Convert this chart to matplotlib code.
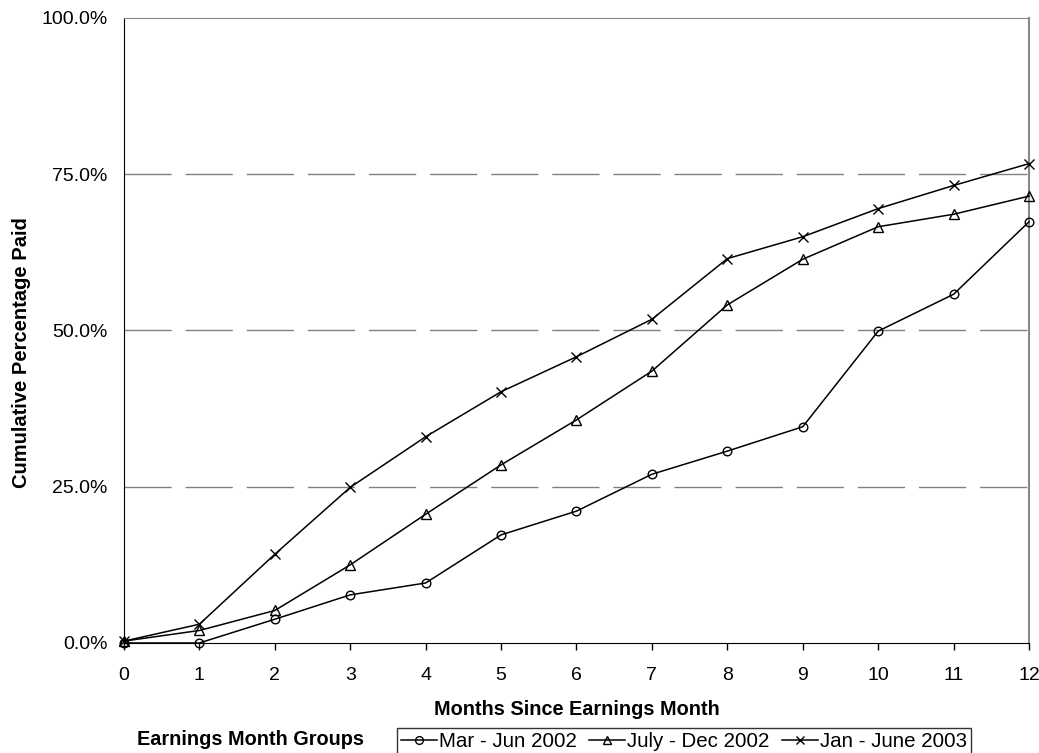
import matplotlib
matplotlib.use('Agg')
import matplotlib.pyplot as plt
from matplotlib.ticker import FuncFormatter

plt.rcParams['font.family'] = ['Liberation Sans', 'DejaVu Sans']

months = list(range(13))
mar_jun_2002 = [0.0, 0.0, 3.8, 7.7, 9.6, 17.3, 21.1, 27.0, 30.7, 34.6, 49.9, 55.8, 67.4]
jul_dec_2002 = [0.3, 2.0, 5.2, 12.5, 20.6, 28.5, 35.7, 43.5, 54.1, 61.4, 66.6, 68.6, 71.5]
jan_jun_2003 = [0.3, 3.0, 14.2, 24.9, 33.0, 40.2, 45.8, 51.8, 61.5, 65.0, 69.5, 73.2, 76.7]
series_names = ['Mar - Jun 2002', 'July - Dec 2002', 'Jan - June 2003']

fig = plt.figure(figsize=(10.39, 7.53), dpi=100)
ax = fig.add_axes([0.1193, 0.1461, 0.8711, 0.8300])

for y in [25, 50, 75]:
    ax.axhline(y, color='#808080', lw=1.0, dashes=(34, 10), zorder=1)

style = dict(color='black', lw=1.1, markerfacecolor='none', markeredgecolor='black',
             markeredgewidth=1.0, zorder=3, clip_on=False)
ax.plot(months, mar_jun_2002, marker='o', ms=6.2, label=series_names[0], **style)
ax.plot(months, jul_dec_2002, marker='^', ms=6.5, label=series_names[1], **style)
ax.plot(months, jan_jun_2003, marker='x', ms=7, label=series_names[2], **style)

ax.set_xlim(0, 12)
ax.set_ylim(0, 100)
ax.set_xticks(months)
ax.set_yticks([0, 25, 50, 75, 100])
ax.yaxis.set_major_formatter(FuncFormatter(lambda v, p: '%.1f%%' % v))
ax.tick_params(axis='x', direction='out', length=5, width=1, labelsize=14, pad=12.3)
ax.tick_params(axis='y', length=0, labelsize=14, pad=12)

ax.spines['top'].set_color('#888888')
ax.spines['right'].set_color('#888888')
ax.spines['right'].set_linewidth(1.5)
ax.spines['left'].set_color('black')
ax.spines['bottom'].set_color('black')

ax.set_xlabel('Months Since Earnings Month', fontsize=14.3, fontweight='bold')
ax.xaxis.set_label_coords(0.5, -0.091)
ax.set_ylabel('Cumulative Percentage Paid', fontsize=14.5, fontweight='bold')
ax.yaxis.set_label_coords(-0.1028, 0.464)

leg = fig.legend(loc='upper left', bbox_to_anchor=(0.3821, 0.0332), ncol=3, frameon=True,
                 fancybox=False, edgecolor='black', fontsize=14.8, handlelength=1.75,
                 handletextpad=0.1, columnspacing=0.6, borderpad=0.2, borderaxespad=0,
                 markerscale=0.9)
leg.get_frame().set_linewidth(1.0)
fig.text(0.1319, 0.0173, 'Earnings Month Groups', fontsize=14.3, fontweight='bold',
         ha='left', va='center')

fig.savefig('out.png', dpi=100)
